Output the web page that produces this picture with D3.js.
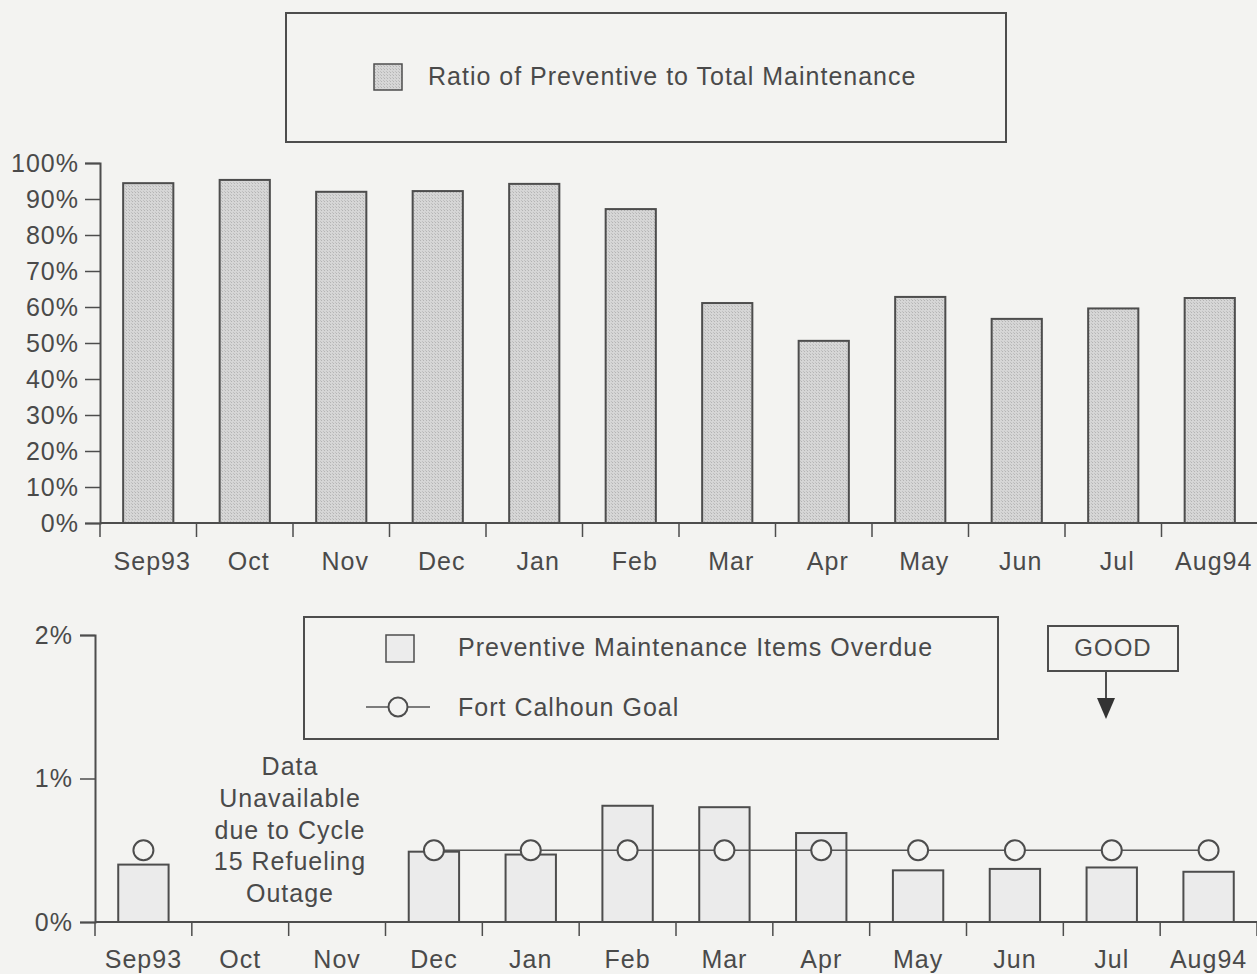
<!DOCTYPE html>
<html>
<head>
<meta charset="utf-8">
<script src="https://cdn.jsdelivr.net/npm/d3@7"></script>
<style>
  html, body { margin: 0; padding: 0; background: #f3f3f1; }
  svg { display: block; }
  text { font-family: "Liberation Sans", Arial, Helvetica, sans-serif; fill: #4a4a4a; letter-spacing: 1px; }
</style>
</head>
<body>
<svg id="chart" width="1257" height="974"></svg>
<script>
// ---- data ----
const months = ["Sep93","Oct","Nov","Dec","Jan","Feb","Mar","Apr","May","Jun","Jul","Aug94"];
const ratioPreventive = [94.4, 95.3, 92.0, 92.2, 94.2, 87.2, 61.1, 50.6, 62.8, 56.7, 59.6, 62.5]; // %
const overdue = [0.40, null, null, 0.49, 0.47, 0.81, 0.80, 0.62, 0.36, 0.37, 0.38, 0.35]; // %
const goal = [0.5, null, null, 0.5, 0.5, 0.5, 0.5, 0.5, 0.5, 0.5, 0.5, 0.5]; // %
const topTicks = [0,10,20,30,40,50,60,70,80,90,100];
const bottomTicks = [0,1,2];
const topLegend = "Ratio of Preventive to Total Maintenance";
const bottomLegend = ["Preventive Maintenance Items Overdue", "Fort Calhoun Goal"];
const note = ["Data","Unavailable","due to Cycle","15 Refueling","Outage"];

const svg = d3.select("#chart");
const ink = "#4d4d4d";
const bg = "#f3f3f1";
const FS = 25;
const FONT = "Liberation Sans, Arial, sans-serif";

// pattern for top bars
const defs = svg.append("defs");
const pat = defs.append("pattern").attr("id","dots").attr("width",3).attr("height",3).attr("patternUnits","userSpaceOnUse");
pat.append("rect").attr("width",3).attr("height",3).attr("fill","#d6d6d6");
pat.append("rect").attr("x",0).attr("y",0).attr("width",1).attr("height",1).attr("fill","#b4b4b4");
pat.append("rect").attr("x",2).attr("y",2).attr("width",1).attr("height",1).attr("fill","#c0c0c0");

function styleTickText(sel) {
  sel.selectAll(".tick text").attr("font-size",FS).attr("fill","#4a4a4a").attr("font-family",FONT);
}

// ================= TOP CHART =================
const xT = d3.scaleBand().domain(months).range([100, 1258]).paddingInner(0.48).paddingOuter(0.24);
const yT = d3.scaleLinear().domain([0,100]).range([523,163]);

// legend box
svg.append("rect").attr("x",286).attr("y",13).attr("width",720).attr("height",129)
  .attr("fill","none").attr("stroke",ink).attr("stroke-width",2);
svg.append("rect").attr("x",374).attr("y",64).attr("width",28).attr("height",26)
  .attr("fill","url(#dots)").attr("stroke",ink).attr("stroke-width",1.5);
svg.append("text").attr("x",428).attr("y",85).attr("font-size",FS).text(topLegend);

// bars
svg.append("g").selectAll("rect").data(months).join("rect")
  .attr("x", d => xT(d)).attr("width", xT.bandwidth())
  .attr("y", (d,i) => yT(ratioPreventive[i]))
  .attr("height", (d,i) => yT(0) - yT(ratioPreventive[i]))
  .attr("fill","url(#dots)").attr("stroke",ink).attr("stroke-width",2);

// y axis
const yAxT = svg.append("g").attr("transform","translate(100,0)")
  .call(d3.axisLeft(yT).tickValues(topTicks).tickFormat(d => d + "%").tickSize(15).tickPadding(6));
yAxT.select(".domain").attr("stroke",ink).attr("stroke-width",2);
yAxT.selectAll(".tick line").attr("stroke",ink).attr("stroke-width",1.5);
styleTickText(yAxT);

// x axis
const xAxT = svg.append("g").attr("transform","translate(0,523)")
  .call(d3.axisBottom(xT).tickSize(0).tickPadding(29));
xAxT.select(".domain").remove();
styleTickText(xAxT);
xAxT.selectAll(".tick text").attr("dx", 4);
svg.append("line").attr("x1",100).attr("x2",1257).attr("y1",523).attr("y2",523).attr("stroke",ink).attr("stroke-width",2);
svg.append("g").selectAll("line").data(d3.range(months.length + 1)).join("line")
  .attr("x1", i => xT.range()[0] + i * xT.step()).attr("x2", i => xT.range()[0] + i * xT.step())
  .attr("y1",523).attr("y2",537).attr("stroke",ink).attr("stroke-width",1.5);

// ================= BOTTOM CHART =================
const xB = d3.scaleBand().domain(months).range([95, 1257]).paddingInner(0.48).paddingOuter(0.24);
const yB = d3.scaleLinear().domain([0,2]).range([922,635]);

// legend box
svg.append("rect").attr("x",304).attr("y",617).attr("width",694).attr("height",122)
  .attr("fill","none").attr("stroke",ink).attr("stroke-width",2);
svg.append("rect").attr("x",386).attr("y",635).attr("width",28).attr("height",27)
  .attr("fill","#ececec").attr("stroke",ink).attr("stroke-width",1.5);
svg.append("text").attr("x",458).attr("y",656).attr("font-size",FS).text(bottomLegend[0]);
svg.append("line").attr("x1",366).attr("x2",430).attr("y1",707).attr("y2",707).attr("stroke","#555").attr("stroke-width",1.5);
svg.append("circle").attr("cx",398).attr("cy",707).attr("r",9.5).attr("fill",bg).attr("stroke",ink).attr("stroke-width",2);
svg.append("text").attr("x",458).attr("y",716).attr("font-size",FS).text(bottomLegend[1]);

// GOOD box + arrow
svg.append("rect").attr("x",1048).attr("y",626).attr("width",130).attr("height",45)
  .attr("fill","none").attr("stroke",ink).attr("stroke-width",2);
svg.append("text").attr("x",1113).attr("y",656).attr("text-anchor","middle").attr("font-size",24).text("GOOD");
svg.append("line").attr("x1",1106).attr("x2",1106).attr("y1",671).attr("y2",700).attr("stroke",ink).attr("stroke-width",2);
svg.append("path").attr("d","M1097,698 L1115,698 L1106,719 Z").attr("fill","#333");

// bars
svg.append("g").selectAll("rect").data(months.filter((d,i) => overdue[i] != null)).join("rect")
  .attr("x", d => xB(d)).attr("width", xB.bandwidth())
  .attr("y", d => yB(overdue[months.indexOf(d)]))
  .attr("height", d => yB(0) - yB(overdue[months.indexOf(d)]))
  .attr("fill","#ebebeb").attr("stroke",ink).attr("stroke-width",2);

// goal line
const line = d3.line().defined(d => d.v != null)
  .x(d => xB(d.m) + xB.bandwidth()/2).y(d => yB(d.v));
const goalData = months.map((m,i) => ({m, v: goal[i]}));
svg.append("path").datum(goalData).attr("d", line).attr("fill","none").attr("stroke","#555").attr("stroke-width",1.5);
svg.append("g").selectAll("circle").data(goalData.filter(d => d.v != null)).join("circle")
  .attr("cx", d => xB(d.m) + xB.bandwidth()/2).attr("cy", d => yB(d.v)).attr("r",10)
  .attr("fill",bg).attr("stroke",ink).attr("stroke-width",2);

// note
svg.append("text").attr("text-anchor","middle").attr("font-size",FS)
  .selectAll("tspan").data(note).join("tspan")
  .attr("x",290).attr("y",(d,i) => 775 + i*31.8).text(d => d);

// y axis
const yAxB = svg.append("g").attr("transform","translate(95,0)")
  .call(d3.axisLeft(yB).tickValues(bottomTicks).tickFormat(d => d + "%").tickSize(15).tickPadding(7));
yAxB.select(".domain").attr("stroke",ink).attr("stroke-width",2);
yAxB.selectAll(".tick line").attr("stroke",ink).attr("stroke-width",1.5);
styleTickText(yAxB);

// x axis
const xAxB = svg.append("g").attr("transform","translate(0,922)")
  .call(d3.axisBottom(xB).tickSize(0).tickPadding(28));
xAxB.select(".domain").remove();
styleTickText(xAxB);
svg.append("line").attr("x1",95).attr("x2",1257).attr("y1",922).attr("y2",922).attr("stroke",ink).attr("stroke-width",2);
svg.append("g").selectAll("line").data(d3.range(months.length + 1)).join("line")
  .attr("x1", i => xB.range()[0] + i * xB.step()).attr("x2", i => xB.range()[0] + i * xB.step())
  .attr("y1",922).attr("y2",936).attr("stroke",ink).attr("stroke-width",1.5);
</script>
</body>
</html>
